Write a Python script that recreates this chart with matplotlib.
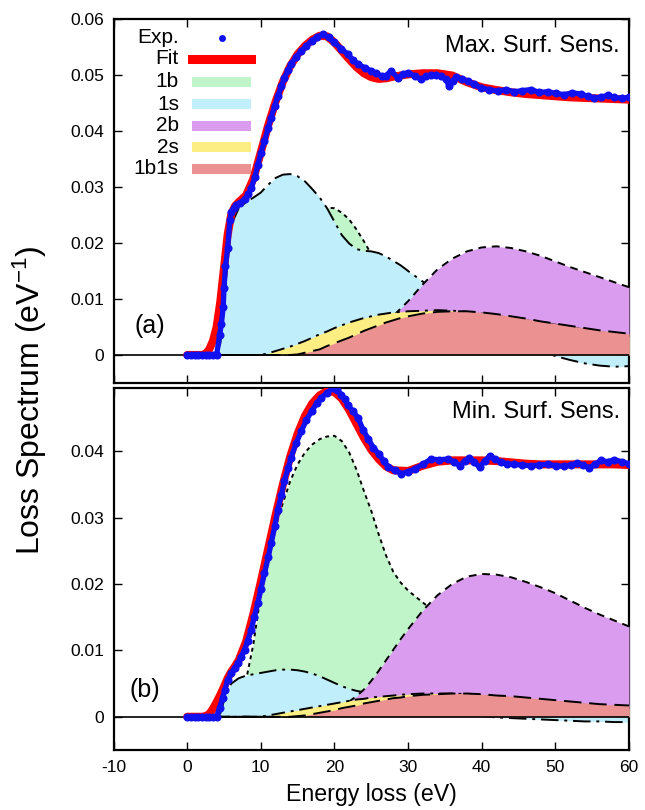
import matplotlib
matplotlib.use("Agg")
from matplotlib import pyplot as plt
from matplotlib.patches import Rectangle
from matplotlib.lines import Line2D

plt.rcParams["font.family"] = ["Liberation Sans", "DejaVu Sans"]
plt.rcParams["axes.unicode_minus"] = False
plt.rcParams["mathtext.default"] = "regular"

# energy grid for the fitted components
E_comp = [0, 3, 4, 4.5, 5, 5.5, 6, 7, 8, 9, 10, 11, 12, 13, 14, 15, 16, 17, 18, 19, 20,
          21, 22, 23, 24, 25, 26, 27, 28, 29, 30, 32, 34, 36, 38, 40, 42, 44, 46, 48,
          50, 52, 54, 56, 58, 60]

# (a) max. surface sensitivity - components
a_1b = [0, 0, 0, 0, 0, 0.0002, 0.0005, 0.0012, 0.0025, 0.0045, 0.007, 0.0098, 0.0128,
        0.0157, 0.0185, 0.021, 0.023, 0.0246, 0.0257, 0.0263, 0.0262, 0.0254, 0.0242,
        0.0224, 0.0203, 0.018, 0.0156, 0.0133, 0.0113, 0.0096, 0.0082, 0.006, 0.0045,
        0.0034, 0.0026, 0.002, 0.0016, 0.0013, 0.001, 0.0008, 0.0007, 0.0006, 0.0005,
        0.0004, 0.0004, 0.0003]
a_1s = [0, 0, 0.0003, 0.002, 0.0085, 0.0175, 0.0233, 0.0262, 0.0273, 0.0281, 0.029,
        0.0304, 0.0316, 0.0322, 0.0323, 0.0319, 0.031, 0.0296, 0.0281, 0.0262, 0.0238,
        0.0214, 0.0199, 0.0189, 0.0186, 0.0185, 0.0182, 0.0176, 0.0168, 0.016, 0.015,
        0.0131, 0.011, 0.0092, 0.0075, 0.006, 0.0045, 0.003, 0.0018, 0.0007, -0.0002,
        -0.0009, -0.0015, -0.0019, -0.0021, -0.002]
a_2b = [0, 0, 0, 0, 0, 0, 0, 0, 0, 0, 0, 0, 0, 0, 0, 0.0001, 0.0002, 0.0003, 0.0005,
        0.0007, 0.001, 0.0014, 0.0019, 0.0025, 0.0032, 0.004, 0.0049, 0.0059, 0.007,
        0.0083, 0.0096, 0.0126, 0.0153, 0.0172, 0.0185, 0.0192, 0.0194, 0.0191, 0.0185,
        0.0177, 0.0167, 0.0157, 0.0148, 0.0139, 0.013, 0.0121]
a_2s = [0, 0, 0, 0, 0, 0, 0, 0, 0, 0, 0, 0.0003, 0.0007, 0.0011, 0.0015, 0.002, 0.0025,
        0.0031, 0.0037, 0.0042, 0.0048, 0.0053, 0.0058, 0.0062, 0.0066, 0.0069, 0.0072,
        0.0074, 0.0076, 0.0077, 0.0078, 0.0079, 0.008, 0.0079, 0.0077, 0.0074, 0.007,
        0.0066, 0.0062, 0.0058, 0.0054, 0.005, 0.0045, 0.0041, 0.0037, 0.0033]
a_1b1s = [0, 0, 0, 0, 0, 0, 0, 0, 0, 0, 0, 0, 0, 0, 0, 0.0001, 0.0004, 0.0007, 0.001,
          0.0016, 0.0021, 0.0026, 0.0031, 0.0037, 0.0043, 0.0048, 0.0053, 0.0058, 0.0062,
          0.0066, 0.0069, 0.0074, 0.0077, 0.0078, 0.0078, 0.0076, 0.0073, 0.0069, 0.0065,
          0.006, 0.0056, 0.0052, 0.0048, 0.0044, 0.0041, 0.0038]

# (b) min. surface sensitivity - components
b_1b = [0, 0, 0, 0, 0.0003, 0.0006, 0.001, 0.0025, 0.0055, 0.011, 0.0185, 0.0238, 0.0285,
        0.0322, 0.0355, 0.038, 0.0398, 0.041, 0.0418, 0.0422, 0.0423, 0.0415, 0.0398,
        0.0372, 0.034, 0.031, 0.0275, 0.0243, 0.0218, 0.0202, 0.019, 0.0172, 0.0155,
        0.0132, 0.0108, 0.0085, 0.0066, 0.005, 0.0038, 0.0029, 0.0022, 0.0017, 0.0013,
        0.001, 0.0008, 0.0006]
b_1s = [0, 0, 0.0001, 0.0005, 0.0024, 0.0041, 0.005, 0.0058, 0.0062, 0.0064, 0.0066,
        0.0068, 0.007, 0.0071, 0.0071, 0.007, 0.0068, 0.0065, 0.0061, 0.0056, 0.0051,
        0.0046, 0.0042, 0.0039, 0.0037, 0.0034, 0.0031, 0.0028, 0.0025, 0.0022, 0.0019,
        0.0014, 0.001, 0.0006, 0.0003, 0.0001, -0.0001, -0.0002, -0.0003, -0.0004,
        -0.0005, -0.0006, -0.0007, -0.0007, -0.0008, -0.0008]
b_2b = [0, 0, 0, 0, 0, 0, 0, 0, 0, 0, 0, 0, 0, 0, 0, 0.0001, 0.0002, 0.0004, 0.0006,
        0.0009, 0.0012, 0.0017, 0.0023, 0.0031, 0.0041, 0.0054, 0.0069, 0.0085, 0.0101,
        0.0117, 0.0132, 0.016, 0.0183, 0.02, 0.0211, 0.0215, 0.0214, 0.021, 0.0203,
        0.0195, 0.0186, 0.0175, 0.0164, 0.0154, 0.0145, 0.0136]
b_2s = [0, 0, 0, 0, 0, 0, 0, 0, 0, 0, 0, 0.0002, 0.0004, 0.0006, 0.0008, 0.001, 0.0012,
        0.0014, 0.0016, 0.0018, 0.002, 0.0022, 0.0024, 0.0026, 0.0027, 0.0029, 0.003,
        0.0031, 0.0032, 0.0033, 0.0034, 0.0035, 0.0035, 0.0035, 0.0034, 0.0032, 0.003,
        0.0028, 0.0026, 0.0024, 0.0022, 0.002, 0.0018, 0.0016, 0.0014, 0.0012]
b_1b1s = [0, 0, 0, 0, 0, 0, 0, 0, 0, 0, 0, 0, 0, 0, 0, 0.0001, 0.0002, 0.0004, 0.0006,
          0.0008, 0.001, 0.0013, 0.0015, 0.0017, 0.002, 0.0022, 0.0024, 0.0026, 0.0028,
          0.0029, 0.0031, 0.0033, 0.0034, 0.0035, 0.0035, 0.0034, 0.0032, 0.0031, 0.0029,
          0.0027, 0.0025, 0.0023, 0.0021, 0.0019, 0.0018, 0.0017]

# total fit
E_fit = [0, 2, 2.5, 3, 3.5, 4, 4.5, 5, 5.5, 6, 6.5, 7, 8, 9, 10, 11, 12, 13, 14, 15, 16,
         17, 18, 19, 20, 21, 22, 23, 24, 25, 26, 27, 28, 30, 32, 34, 36, 38, 40, 42, 44,
         46, 48, 50, 52, 54, 56, 58, 60]
a_fit = [0, 0, 0.0002, 0.001, 0.0025, 0.005, 0.0095, 0.0155, 0.0215, 0.0252, 0.0266,
         0.0273, 0.0285, 0.0315, 0.0362, 0.041, 0.0452, 0.0488, 0.0516, 0.0537, 0.0552,
         0.0563, 0.057, 0.0569, 0.0558, 0.0543, 0.0528, 0.0514, 0.0503, 0.0496, 0.0493,
         0.0494, 0.0497, 0.0501, 0.0503, 0.0503, 0.0499, 0.0487, 0.0478, 0.0473, 0.0469,
         0.0466, 0.0464, 0.0462, 0.046, 0.0459, 0.0458, 0.0457, 0.0456]
b_fit = [0, 0, 0.0001, 0.0004, 0.0012, 0.0022, 0.0033, 0.0045, 0.0058, 0.0068, 0.0076,
         0.0085, 0.0113, 0.0155, 0.0203, 0.0253, 0.0303, 0.035, 0.0392, 0.0426, 0.0453,
         0.0472, 0.0484, 0.049, 0.0489, 0.0479, 0.0462, 0.0441, 0.042, 0.0402, 0.0388,
         0.0377, 0.0371, 0.037, 0.0378, 0.0384, 0.0386, 0.0386, 0.0386, 0.0385, 0.0383,
         0.0381, 0.038, 0.038, 0.038, 0.038, 0.038, 0.038, 0.0379]

# experimental spectra
E_exp_a = [0, 0.5, 1, 1.5, 2, 2.5, 3, 3.5, 4, 4.4, 4.65, 4.9, 5.0, 5.2, 5.5, 5.8, 6.0, 6.4,
           6.7, 7.2, 7.8, 8.3, 8.7, 9.2, 9.6, 10.0, 10.5, 11.0, 11.4, 11.9, 12.3, 12.8,
           13.2, 13.7, 14.1, 14.8, 15.5, 16.2, 16.9, 17.6, 18.4, 19.2, 20.0, 20.9, 21.8,
           22.5, 23.2, 24.1, 25.0, 25.7, 26.4, 27.0, 27.7, 28.6, 29.3, 30.0, 30.9, 31.8,
           32.5, 33.1, 33.8, 34.5, 35.1, 35.6, 36.1, 36.5, 37.3, 38.1, 39.0, 39.9, 41.0,
           42.2, 43.3, 44.4, 45.5, 46.7, 47.8, 49.0, 50.1, 51.2, 52.3, 53.5, 54.4, 55.3,
           56.2, 57.1, 58.0, 59.0, 60.0]
exp_a = [0, 0, 0, 0, 0, 0, 0, 0, 0, 0.0035, 0.0056, 0.0086, 0.0119, 0.0158, 0.0191,
         0.0241, 0.0256, 0.0263, 0.0268, 0.0272, 0.0278, 0.0287, 0.0298, 0.0318, 0.034,
         0.036, 0.0382, 0.0405, 0.0424, 0.0445, 0.0462, 0.048, 0.0495, 0.0508, 0.0519,
         0.0532, 0.0543, 0.0552, 0.0561, 0.0567, 0.0573, 0.0567, 0.0558, 0.0547, 0.0537,
         0.0527, 0.0519, 0.0513, 0.0507, 0.0503, 0.0498, 0.0499, 0.0507, 0.0495, 0.0501,
         0.0504, 0.0498, 0.0492, 0.0498, 0.05, 0.05, 0.0498, 0.0492, 0.048, 0.049, 0.0496,
         0.0493, 0.0489, 0.0483, 0.0477, 0.0474, 0.0471, 0.0474, 0.047, 0.0472, 0.0474,
         0.0469, 0.047, 0.0467, 0.0465, 0.0468, 0.0466, 0.0462, 0.0459, 0.046, 0.0464,
         0.046, 0.0458, 0.046]
E_exp_b = [0, 0.5, 1, 1.5, 2, 2.5, 3, 3.5, 4, 4.4, 4.8, 5.1, 5.5, 6.0, 6.5, 6.9, 7.3, 7.8,
           8.2, 8.7, 9.1, 9.6, 10.0, 10.5, 11.0, 11.4, 11.9, 12.3, 12.8, 13.2, 13.7, 14.1,
           14.8, 15.5, 16.2, 16.9, 17.6, 18.2, 19.0, 19.8, 20.4, 20.9, 21.4, 21.8, 22.5,
           23.2, 23.9, 24.6, 25.3, 26.0, 26.7, 27.3, 28.2, 29.1, 30.0, 30.9, 32.0, 33.1,
           34.2, 35.4, 36.2, 37.0, 37.7, 38.3, 39.0, 39.7, 40.4, 41.1, 41.8, 42.6, 43.5,
           44.4, 45.5, 46.7, 47.8, 49.0, 50.1, 51.2, 52.1, 53.0, 53.8, 54.6, 55.4, 56.2,
           57.1, 58.0, 59.0, 60.0]
exp_b = [0, 0, 0, 0, 0, 0, 0, 0, 0, 0.0013, 0.0028, 0.004, 0.0055, 0.0066, 0.0074, 0.0081,
         0.009, 0.0101, 0.0114, 0.0131, 0.015, 0.0171, 0.0192, 0.0216, 0.024, 0.0261,
         0.0287, 0.0311, 0.0334, 0.0355, 0.0374, 0.039, 0.0412, 0.043, 0.0447, 0.046,
         0.0472, 0.048, 0.0488, 0.0495, 0.0492, 0.0485, 0.0478, 0.047, 0.046, 0.045,
         0.0432, 0.0418, 0.0405, 0.0396, 0.0385, 0.0376, 0.0371, 0.0366, 0.0369, 0.0373,
         0.038, 0.0388, 0.0387, 0.0388, 0.0384, 0.0378, 0.0385, 0.039, 0.0383, 0.0376,
         0.0385, 0.0393, 0.0388, 0.0383, 0.0381, 0.038, 0.0379, 0.0378, 0.0379, 0.038,
         0.0378, 0.0377, 0.0379, 0.0382, 0.0379, 0.0375, 0.038, 0.0386, 0.0384, 0.0387,
         0.0384, 0.0381]

# colores y estilos de cada componente
comp_names = ["1b", "1s", "2b", "2s", "1b1s"]
comp_colors = ["#bff5c9", "#c0eefb", "#da9cee", "#fdee83", "#ec9191"]
comp_styles = [(0, (2, 2)), (0, (9, 3, 1.5, 3)), (0, (4, 3)), (0, (7, 3, 1.5, 3)), (0, (9, 4))]

fig = plt.figure(figsize=(6.45, 8.1), dpi=100)
ax_a = fig.add_axes([0.176, 0.5272, 0.7992, 0.4494])
ax_b = fig.add_axes([0.176, 0.0741, 0.7992, 0.4469])


def draw_panel(ax, comps, fit, exp_E, exp_v):
    for i, vals in enumerate(comps):
        ax.fill_between(E_comp, 0, vals, color=comp_colors[i], lw=0, zorder=1 + i)
        ax.plot(E_comp, vals, color="black", lw=1.4, ls=comp_styles[i], zorder=1 + i)
    ax.axhline(0, color="black", lw=1.2, zorder=6)
    ax.plot(E_fit, fit, color="red", lw=5.8, zorder=7, solid_capstyle="round")
    ax.plot(exp_E, exp_v, color="#1010f0", lw=3.8, marker="o", ms=5.8, mew=0, zorder=8)
    ax.set_xlim(-10, 60)
    ax.set_xticks(range(-10, 61, 10))
    ax.tick_params(direction="in", top=True, right=True, length=6, width=1,
                   labelsize=12.5, pad=7)
    for s in ax.spines.values():
        s.set_linewidth(1.6)


draw_panel(ax_a, [a_1b, a_1s, a_2b, a_2s, a_1b1s], a_fit, E_exp_a, exp_a)
ax_a.set_ylim(-0.005, 0.06)
ax_a.set_yticks([0, 0.01, 0.02, 0.03, 0.04, 0.05, 0.06])
ax_a.set_yticklabels(["0", "0.01", "0.02", "0.03", "0.04", "0.05", "0.06"])
ax_a.tick_params(labelbottom=False)
ax_a.text(0.9825, 0.926, "Max. Surf. Sens.", transform=ax_a.transAxes, ha="right",
          va="center", fontsize=17)
ax_a.text(0.071, 0.157, "(a)", transform=ax_a.transAxes, ha="center", va="center",
          fontsize=18)

draw_panel(ax_b, [b_1b, b_1s, b_2b, b_2s, b_1b1s], b_fit, E_exp_b, exp_b)
ax_b.set_ylim(-0.005, 0.0495)
ax_b.set_yticks([0, 0.01, 0.02, 0.03, 0.04])
ax_b.set_yticklabels(["0", "0.01", "0.02", "0.03", "0.04"])
ax_b.text(0.9825, 0.934, "Min. Surf. Sens.", transform=ax_b.transAxes, ha="right",
          va="center", fontsize=17)
ax_b.text(0.061, 0.166, "(b)", transform=ax_b.transAxes, ha="center", va="center",
          fontsize=18)
ax_b.set_xlabel("Energy loss (eV)", fontsize=16.7, labelpad=6)

fig.text(0.047, 0.506, "Loss Spectrum (eV$^{-1}$)", rotation=90, ha="center",
         va="center", fontsize=23)

# leyenda estilo gnuplot (texto a la derecha, muestra despues)
rows = [0.948, 0.890, 0.827, 0.766, 0.706, 0.648, 0.588]
labels = ["Exp.", "Fit"] + comp_names
for k, y in enumerate(rows):
    ax_a.text(0.127, y, labels[k], transform=ax_a.transAxes, ha="right", va="center",
              fontsize=15, zorder=10)
ax_a.add_line(Line2D([0.2105], [rows[0]], transform=ax_a.transAxes, marker="o", ms=5,
                     mew=0, color="#1010f0", zorder=10))
ax_a.add_line(Line2D([0.152, 0.2665], [rows[1], rows[1]], transform=ax_a.transAxes,
                     color="red", lw=6.5, zorder=10))
for i in range(5):
    ax_a.add_patch(Rectangle((0.152, rows[2 + i] - 0.0138), 0.1145, 0.0275,
                             transform=ax_a.transAxes, color=comp_colors[i], lw=0,
                             zorder=10))

fig.savefig("out.png", dpi=100)
